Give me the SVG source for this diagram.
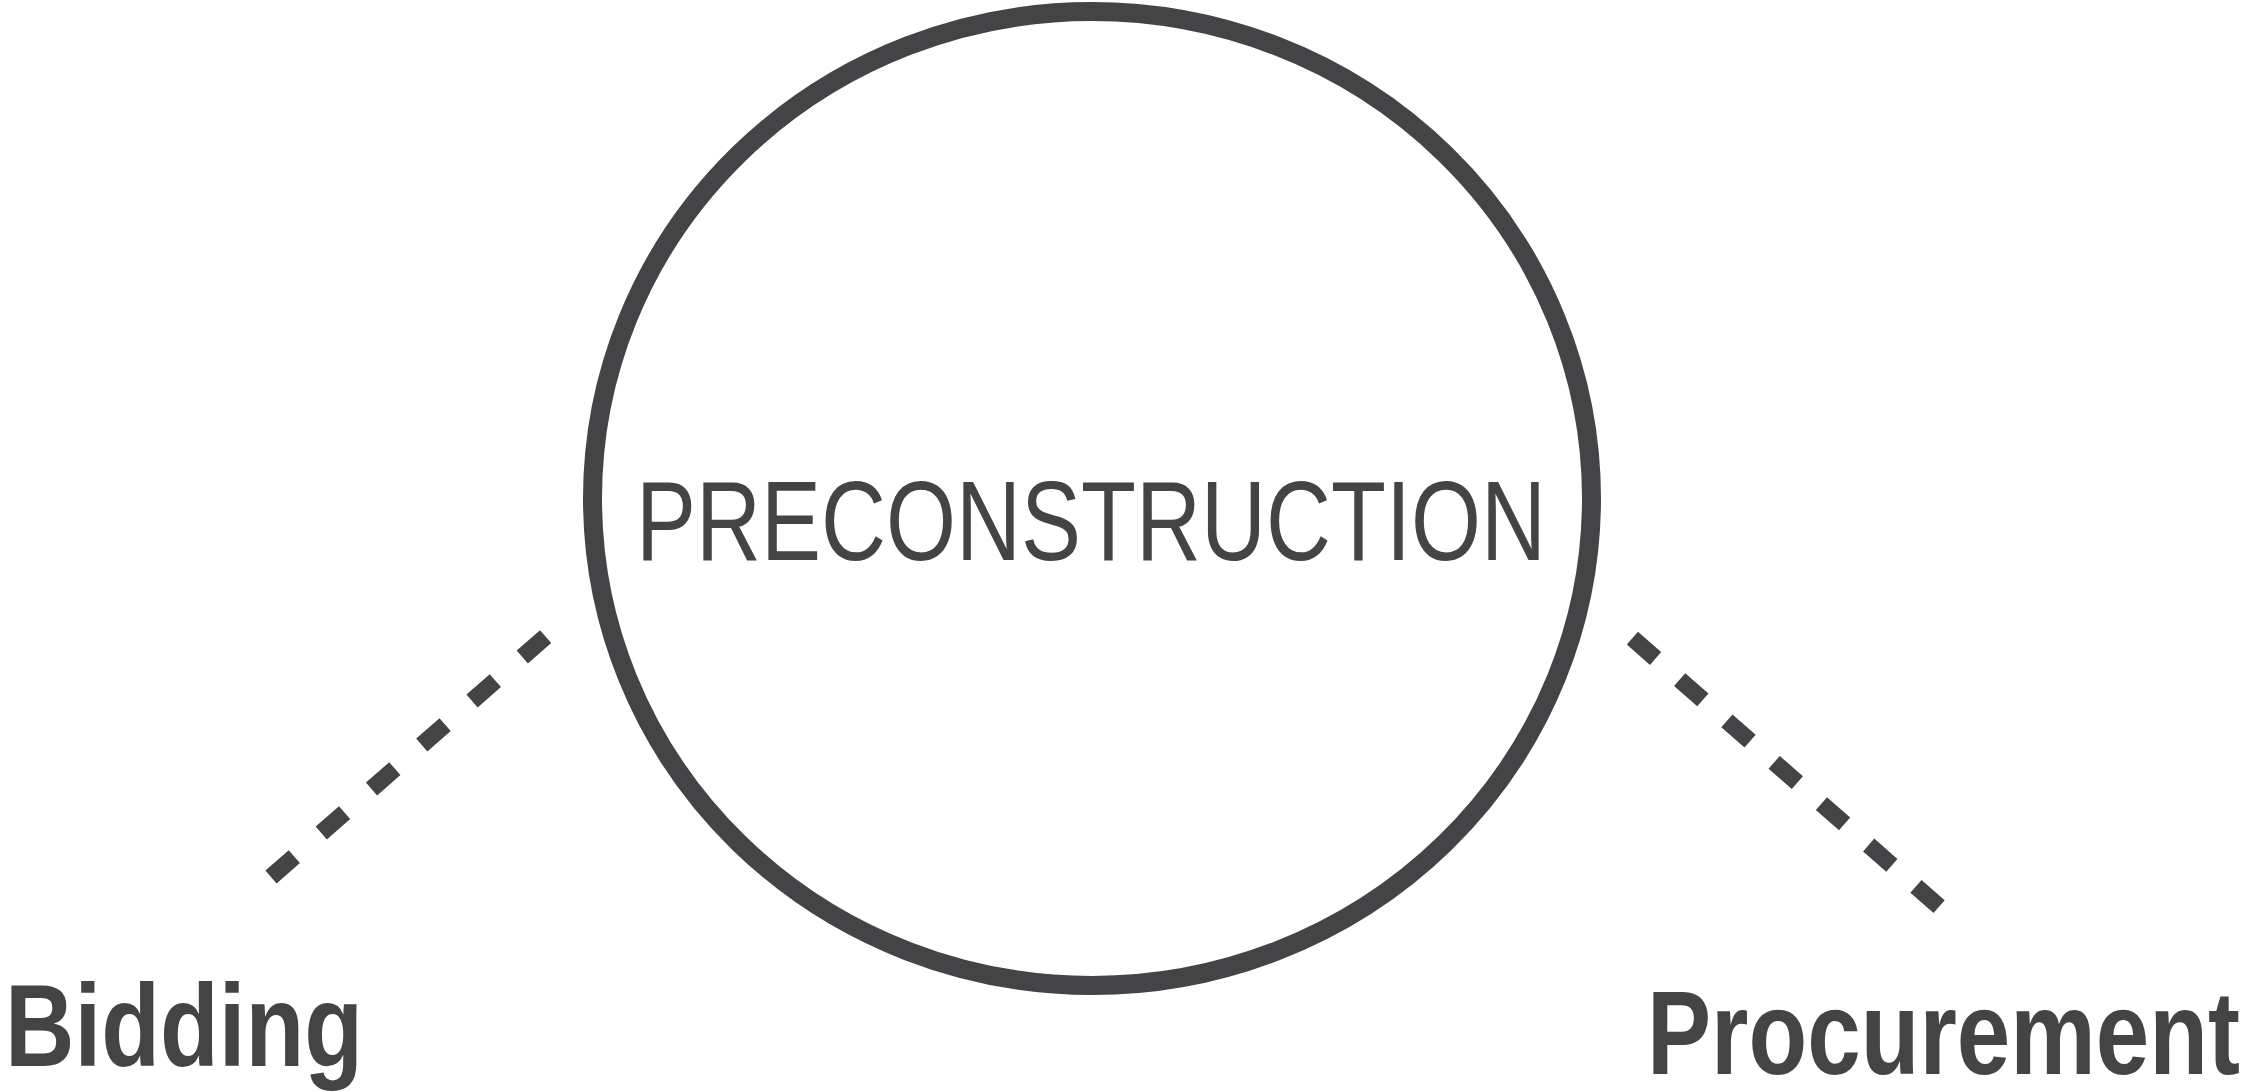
<svg xmlns="http://www.w3.org/2000/svg" width="2248" height="1092" viewBox="0 0 2248 1092">
  <style>
    .bg { fill: #ffffff; }
    .node-shape { fill: none; stroke: #444446; stroke-width: 19; }
    .title { font-family: "Liberation Sans Narrow", "Liberation Sans", Arial, sans-serif; font-size: 114px; fill: #444446; }
    .label { font-family: "Liberation Sans Narrow", "Liberation Sans", Arial, sans-serif; font-weight: bold; fill: #444446; }
    .conn { fill: none; stroke: #444446; stroke-width: 17; }
  </style>
  <rect class="bg" x="0" y="0" width="2248" height="1092"/>
  <g id="connectors">
    <path class="conn" d="M271,877 L545.7,636.5" stroke-dasharray="31 35.8"/>
    <path class="conn" d="M1632.4,638.2 L1939.3,906.8" stroke-dasharray="30.8 32"/>
  </g>
  <g id="preconstruction">
    <ellipse class="node-shape" cx="1092" cy="498.5" rx="499.5" ry="487"/>
    <text class="title" x="1091" y="560" text-anchor="middle" textLength="910" lengthAdjust="spacingAndGlyphs">PRECONSTRUCTION</text>
  </g>
  <g id="bidding">
    <text class="label" x="5" y="1066" font-size="116" textLength="358" lengthAdjust="spacingAndGlyphs">Bidding</text>
  </g>
  <g id="procurement">
    <text class="label" x="1647" y="1074" font-size="119" textLength="593" lengthAdjust="spacingAndGlyphs">Procurement</text>
  </g>
</svg>
